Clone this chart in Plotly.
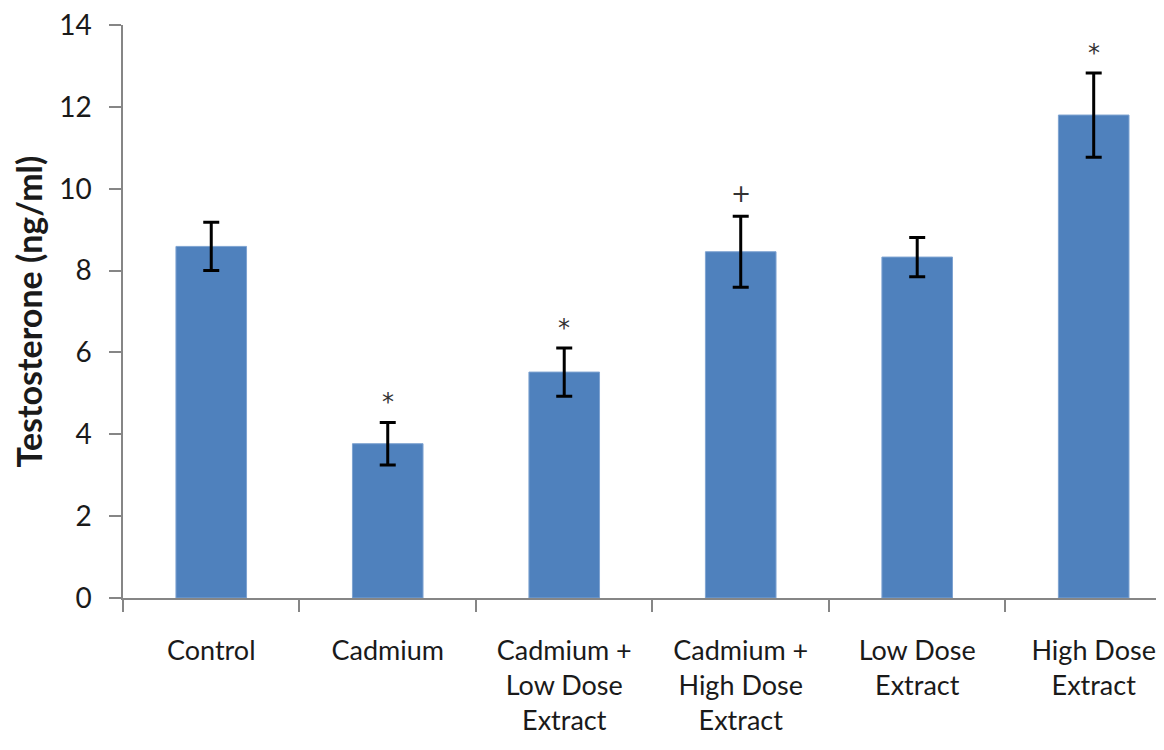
import plotly.graph_objects as go

categories = ["Control", "Cadmium", "Cadmium +<br>Low Dose<br>Extract",
              "Cadmium +<br>High Dose<br>Extract", "Low Dose<br>Extract",
              "High Dose<br>Extract"]
means = [8.59, 3.77, 5.52, 8.46, 8.33, 11.80]
errors = [0.59, 0.52, 0.59, 0.87, 0.48, 1.03]
marks = ["", "*", "*", "+", "", "*"]

y_ticks = [0, 2, 4, 6, 8, 10, 12, 14]

bar_color = "#4F81BD"
axis_color = "#868686"
text_color = "#1a1a1a"
font_family = "Lato"

fig = go.Figure()
fig.add_trace(go.Bar(
    x=categories, y=means, width=0.40,
    marker=dict(color=bar_color, line=dict(color="#7EA3D1", width=1)),
    error_y=dict(type="data", array=errors, visible=True,
                 color="black", thickness=3, width=8),
    showlegend=False,
))

shift = {"*": 4, "+": 6}
for c, m, e, s in zip(categories, means, errors, marks):
    if s:
        fig.add_annotation(x=c, y=m + e, text=s, showarrow=False,
                           yanchor="bottom", yshift=shift[s],
                           font=dict(family="DejaVu Sans", size=24, color="#333333"))

# the page body adds an 8px margin, so the figure is sized to fit inside the window
fig.update_layout(
    width=1148, height=734,
    margin=dict(l=115, r=0, t=17, b=144),
    paper_bgcolor="white", plot_bgcolor="white",
    font=dict(family=font_family, color=text_color),
    bargap=0.6,
)
fig.update_xaxes(
    type="category", range=[-0.5, 5.353], automargin=False,
    showline=True, linecolor=axis_color, linewidth=1.5,
    ticks="outside", tickson="boundaries", ticklen=12, tickcolor=axis_color,
    tickwidth=1.5, showgrid=False,
    tickfont=dict(family=font_family, size=27, color=text_color),
    ticklabelstandoff=28, ticklabeloverflow="allow",
)
fig.update_yaxes(
    range=[0, 14], tickvals=y_ticks, ticktext=[str(v) for v in y_ticks],
    automargin=False, ticklabeloverflow="allow",
    showline=True, linecolor=axis_color, linewidth=1.5,
    ticks="outside", ticklen=12, tickcolor=axis_color, tickwidth=1.5,
    showgrid=False, zeroline=False,
    tickfont=dict(family=font_family, size=28, color=text_color),
    ticklabelstandoff=12,
    title=dict(text="<b>Testosterone (ng/ml)</b>", standoff=12,
               font=dict(family=font_family, size=34, color=text_color)),
)

fig.write_html("out.html")
